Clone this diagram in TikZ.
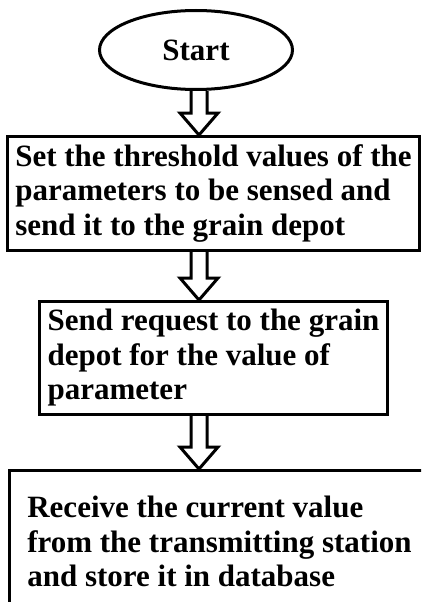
\documentclass[tikz,border=0pt]{standalone}
\usepackage{fontspec}
\setmainfont{Liberation Serif}
\usetikzlibrary{shapes.geometric, positioning, calc}

\begin{document}
\begin{tikzpicture}[
  node distance=44pt,
  terminal/.style={
    ellipse, draw, line width=3pt,
    minimum width=193pt, minimum height=79pt,
    font=\fontsize{31}{34.5}\selectfont\bfseries
  },
  block/.style={
    rectangle, draw, line width=3pt,
    align=left, inner xsep=8pt,
    font=\fontsize{31}{34.5}\selectfont\bfseries
  },
  flowarrow/.style={draw, line width=3pt, fill=white, line join=miter}
]

\useasboundingbox (0,0) rectangle (421pt,-602pt);
\clip (0,0) rectangle (421pt,-602pt);

% Start
\node[terminal] (start) at (196pt,-50pt) {Start};

% Steps
\node[block, minimum width=409pt, minimum height=114pt,
      below=44pt of start, xshift=17.5pt] (setthr)
      {Set the threshold values of the\\parameters to be sensed and\\send it to the grain depot};
\node[block, minimum width=344pt, minimum height=113pt,
      below=48pt of setthr] (request)
      {Send request to the grain\\depot for the value of\\parameter};
\node[block, minimum width=420pt, minimum height=142pt,
      below=53pt of request, xshift=6pt] (receive)
      {Receive the current value\\from the transmitting station\\and store it in database};

% Hollow arrows between steps
\foreach \a/\b in {start/setthr, setthr/request, request/receive}{
  \draw[flowarrow] let \p1=(\a.south), \p2=(\b.north), \p3=($(start.center)+(3pt,0)$) in
    (\x3-8pt,\y1) -- (\x3-8pt,\y2+22pt) -- (\x3-19pt,\y2+22pt) -- (\x3,\y2)
    -- (\x3+19pt,\y2+22pt) -- (\x3+8pt,\y2+22pt) -- (\x3+8pt,\y1);
}

\end{tikzpicture}
\end{document}
